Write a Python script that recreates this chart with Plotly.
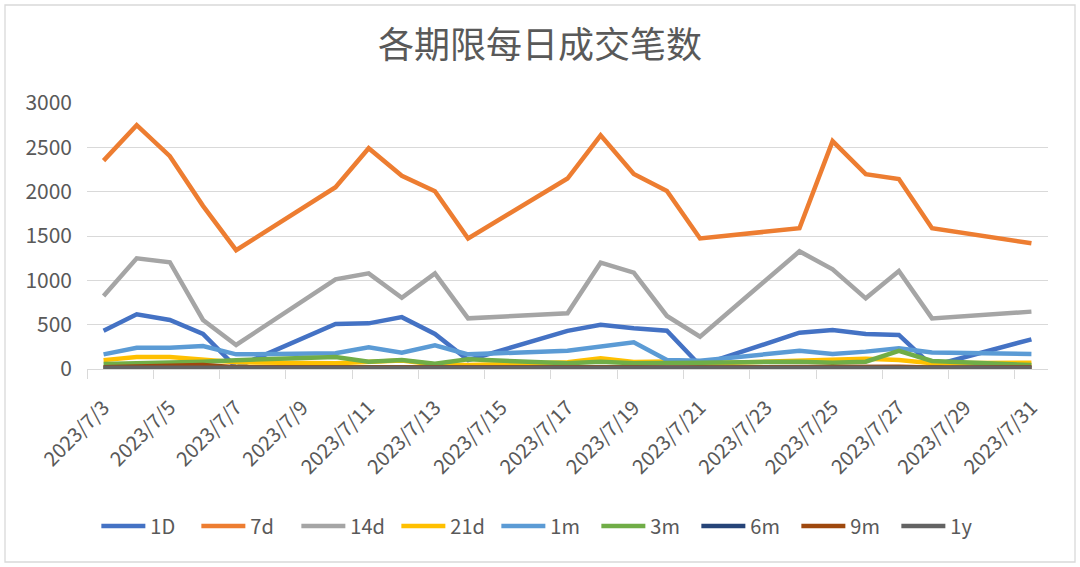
import plotly.graph_objects as go

dates = ["2023-07-03", "2023-07-04", "2023-07-05", "2023-07-06", "2023-07-07",
         "2023-07-10", "2023-07-11", "2023-07-12", "2023-07-13", "2023-07-14",
         "2023-07-17", "2023-07-18", "2023-07-19", "2023-07-20", "2023-07-21",
         "2023-07-24", "2023-07-25", "2023-07-26", "2023-07-27", "2023-07-28",
         "2023-07-31"]

s_1D = [432, 617, 553, 395, 20, 508, 515, 585, 395, 100, 430, 500, 460, 432, 40,
        410, 440, 395, 384, 35, 335]
s_7d = [2350, 2750, 2400, 1840, 1340, 2050, 2490, 2180, 2005, 1472, 2148, 2635,
        2200, 2008, 1472, 1588, 2570, 2198, 2142, 1588, 1418]
s_14d = [823, 1248, 1204, 553, 271, 1012, 1079, 804, 1079, 571, 628, 1199, 1087,
         598, 365, 1327, 1124, 797, 1105, 571, 647]
s_21d = [100, 135, 135, 100, 75, 65, 80, 95, 50, 45, 75, 120, 80, 85, 60, 100,
         109, 115, 101, 65, 70]
s_1m = [165, 240, 240, 260, 165, 177, 244, 184, 268, 165, 205, 252, 301, 101, 92,
        205, 170, 196, 233, 186, 169]
s_3m = [56, 64, 71, 83, 100, 135, 83, 101, 60, 109, 64, 83, 64, 71, 71, 83, 71,
        83, 205, 90, 45]
s_6m = [8, 10, 12, 10, 8, 10, 12, 10, 8, 10, 10, 12, 10, 8, 10, 10, 12, 10, 12,
        8, 10]
s_9m = [20, 25, 30, 45, 20, 22, 25, 20, 18, 20, 22, 25, 20, 18, 20, 22, 25, 20,
        25, 18, 20]
s_1y = [15, 15, 16, 15, 14, 15, 16, 15, 14, 15, 15, 16, 15, 14, 15, 15, 16, 15,
        16, 14, 15]

series_names = ["1D", "7d", "14d", "21d", "1m", "3m", "6m", "9m", "1y"]
series_values = [s_1D, s_7d, s_14d, s_21d, s_1m, s_3m, s_6m, s_9m, s_1y]
colors = ["#4472C4", "#ED7D31", "#A5A5A5", "#FFC000", "#5B9BD5", "#70AD47",
          "#264478", "#9E480E", "#636363"]

tick_dates = ["2023-07-%02d" % d for d in range(3, 32, 2)]
tick_labels = ["2023/7/%d" % d for d in range(3, 32, 2)]
boundary_ticks = ["2023-07-%02d 12:00" % d for d in range(2, 31, 2)]

FONT = "Noto Sans CJK SC"
GRAY = "#595959"

fig = go.Figure()
for name, vals, col in zip(series_names, series_values, colors):
    fig.add_trace(go.Scatter(x=dates, y=vals, name=name, mode="lines",
                             line=dict(color=col, width=4.5)))

fig.update_layout(
    width=1080, height=567,
    margin=dict(l=87, r=32, t=103, b=198),
    paper_bgcolor="white", plot_bgcolor="white",
    font=dict(family=FONT, color=GRAY, size=19),
    title=dict(text="各期限每日成交笔数", x=0.5, xanchor="center",
               y=1 - 45 / 567, yanchor="middle",
               font=dict(family=FONT, size=36, color=GRAY)),
    showlegend=True,
    legend=dict(orientation="h", x=0.478, xanchor="center", y=-0.59,
                yanchor="middle", font=dict(size=20, color=GRAY),
                itemwidth=44, tracegroupgap=0,
                entrywidth=41, entrywidthmode="pixels"),
    xaxis=dict(type="date",
               range=["2023-07-02 12:00", "2023-07-31 12:00"],
               tickmode="array", tickvals=tick_dates, ticktext=tick_labels,
               tickangle=-45, ticks="", showgrid=False,
               showline=True, linecolor="#D9D9D9", linewidth=1.3,
               ticklabelstandoff=18,
               tickfont=dict(size=20, color=GRAY),
               minor=dict(tickmode="array", tickvals=boundary_ticks,
                          ticks="outside", ticklen=9, tickcolor="#D9D9D9",
                          tickwidth=1.3, showgrid=False)),
    yaxis=dict(range=[0, 3000], tickmode="array",
               tickvals=[0, 500, 1000, 1500, 2000, 2500, 3000],
               showgrid=True, gridcolor="#D9D9D9", gridwidth=1.3,
               zeroline=False, showline=False, ticks="",
               ticklabelstandoff=14,
               tickfont=dict(size=21, color=GRAY)),
    shapes=[dict(type="rect", xref="paper", yref="paper",
                 x0=(5 - 87) / 961, x1=(1075 - 87) / 961,
                 y0=(369 - 562) / 266, y1=(369 - 5) / 266,
                 line=dict(color="#D9D9D9", width=1.3),
                 fillcolor="rgba(0,0,0,0)", layer="below")],
)

fig.write_html("out.html", config={"displayModeBar": False},
               post_script="document.body.style.margin='0';")
